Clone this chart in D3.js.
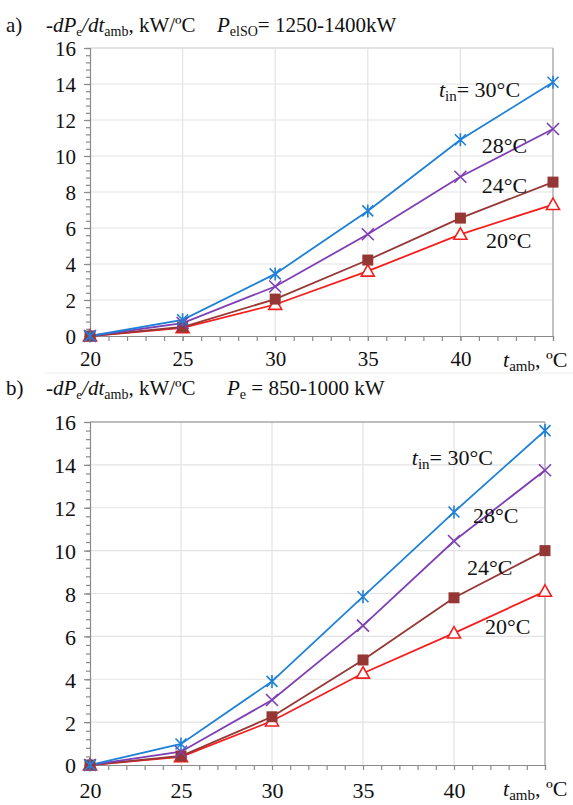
<!DOCTYPE html>
<html><head><meta charset="utf-8">
<script src="https://cdn.jsdelivr.net/npm/d3@7"></script>
<style>body{margin:0;background:#fff}svg{display:block}</style>
</head><body>
<svg id="c" width="573" height="805"></svg>
<script>
const FONT = "'Liberation Serif', Tinos, 'Times New Roman', serif";
const tAmb = [20, 25, 30, 35, 40, 45];
const xTicks = [20, 25, 30, 35, 40, 45];
const xTickLabels = [20, 25, 30, 35, 40];
const yTicks = [0, 2, 4, 6, 8, 10, 12, 14, 16];
const seriesNames = ["30", "28", "24", "20"];
// panel a) P_elSO = 1250-1400 kW
const a30 = [0, 0.9, 3.45, 6.95, 10.9, 14.1];
const a28 = [0, 0.72, 2.75, 5.65, 8.85, 11.5];
const a24 = [0, 0.5, 2.05, 4.22, 6.55, 8.55];
const a20 = [0, 0.45, 1.75, 3.6, 5.65, 7.3];
// panel b) P_e = 850-1000 kW
const b30 = [0, 0.98, 3.9, 7.85, 11.8, 15.6];
const b28 = [0, 0.62, 3.03, 6.5, 10.45, 13.75];
const b24 = [0, 0.42, 2.25, 4.9, 7.8, 10.0];
const b20 = [0, 0.38, 2.05, 4.28, 6.15, 8.1];

const colors = {"30":"#1f80d6","28":"#7f3fb4","24":"#953735","20":"#f41e1e"};
const markers = {"30":"star","28":"x","24":"square","20":"triangle"};

const svg = d3.select("#c").style("font-family", FONT);

svg.append("line").attr("x1",45).attr("x2",573).attr("y1",373).attr("y2",373)
  .attr("stroke","#ececec").attr("stroke-width",1);

function drawMarker(g, type, x, y, c){
  if(type==="star"){
    const s=5.5;
    g.append("path").attr("d",`M${x-s},${y-s}L${x+s},${y+s}M${x-s},${y+s}L${x+s},${y-s}M${x},${y-s-1}L${x},${y+s+1}`)
      .attr("stroke",c).attr("stroke-width",1.6).attr("fill","none");
  } else if(type==="x"){
    const s=6;
    g.append("path").attr("d",`M${x-s},${y-s}L${x+s},${y+s}M${x-s},${y+s}L${x+s},${y-s}`)
      .attr("stroke",c).attr("stroke-width",1.6).attr("fill","none");
  } else if(type==="square"){
    g.append("rect").attr("x",x-5.5).attr("y",y-5.5).attr("width",11).attr("height",11).attr("fill",c);
  } else {
    const s=6.5;
    g.append("path").attr("d",`M${x},${y-s}L${x+s},${y+s*0.75}L${x-s},${y+s*0.75}Z`)
      .attr("stroke",c).attr("stroke-width",1.6).attr("fill","#fff");
  }
}

function styleText(sel, fs){
  sel.attr("font-size",fs).attr("font-family",FONT).attr("fill","#111");
}

function panel(cfg){
  const x = d3.scaleLinear().domain([20,45]).range([cfg.x0,cfg.x1]);
  const y = d3.scaleLinear().domain([0,16]).range([cfg.y0,cfg.y1]);
  const g = svg.append("g");
  g.selectAll(".gy").data(yTicks.slice(1)).join("line")
    .attr("x1",cfg.x0).attr("x2",cfg.x1).attr("y1",d=>y(d)).attr("y2",d=>y(d))
    .attr("stroke","#e3e3e3").attr("stroke-width",1.2);
  g.selectAll(".gx").data(xTicks.slice(1)).join("line")
    .attr("y1",cfg.y0).attr("y2",cfg.y1).attr("x1",d=>x(d)).attr("x2",d=>x(d))
    .attr("stroke","#e3e3e3").attr("stroke-width",1.2);
  g.append("line").attr("x1",cfg.x0).attr("x2",cfg.x1).attr("y1",cfg.y1).attr("y2",cfg.y1)
    .attr("stroke",cfg.topColor).attr("stroke-width",1.2);
  g.append("line").attr("x1",cfg.x1).attr("x2",cfg.x1).attr("y1",cfg.y1).attr("y2",cfg.y0)
    .attr("stroke","#a6a6a6").attr("stroke-width",1.2);
  const yMinor = d3.range(0,16.001,0.4);
  const xMinor = d3.range(20,45.001,1);
  const ay = g.append("g").attr("transform",`translate(${cfg.x0},0)`)
    .call(d3.axisLeft(y).tickValues(yMinor).tickSize(4).tickFormat(""));
  ay.selectAll("line,path").attr("stroke","#8a8a8a").attr("stroke-width",1.2);
  const ay2 = g.append("g").attr("transform",`translate(${cfg.x0},0)`)
    .call(d3.axisLeft(y).tickValues(yTicks).tickSize(6).tickPadding(8).tickFormat(d3.format("d")));
  ay2.select(".domain").remove();
  ay2.selectAll("line").attr("stroke","#8a8a8a").attr("stroke-width",1.2);
  styleText(ay2.selectAll("text"), cfg.fs); ay2.selectAll("text").attr("dy","0.36em");
  const ax = g.append("g").attr("transform",`translate(0,${cfg.y0})`)
    .call(d3.axisBottom(x).tickValues(xMinor).tickSize(5).tickFormat(""));
  ax.selectAll("line,path").attr("stroke","#8a8a8a").attr("stroke-width",1.2);
  const ax2 = g.append("g").attr("transform",`translate(0,${cfg.y0})`)
    .call(d3.axisBottom(x).tickValues(xTickLabels).tickSize(5).tickPadding(cfg.xpad).tickFormat(d3.format("d")));
  ax2.select(".domain").remove();
  ax2.selectAll("line").attr("stroke","#8a8a8a");
  styleText(ax2.selectAll("text"), cfg.fs);
  const order = ["20","24","28","30"];
  order.forEach(k=>{
    const vals = cfg.data[k];
    const pts = tAmb.map((t,i)=>[t,vals[i]]);
    g.append("path").datum(pts)
      .attr("d",d3.line().x(d=>x(d[0])).y(d=>y(d[1])))
      .attr("fill","none").attr("stroke",colors[k]).attr("stroke-width",1.8);
  });
  order.forEach(k=>{
    const vals = cfg.data[k];
    tAmb.forEach((t,i)=>drawMarker(g, markers[k], x(t), y(vals[i]), colors[k]));
  });
  seriesNames.forEach(k=>{
    const p = cfg.labels[k];
    const t = g.append("text").attr("x",x(p[0])).attr("y",y(p[1]));
    styleText(t, 22);
    if(k==="30"){
      t.append("tspan").attr("font-style","italic").text("t");
      t.append("tspan").attr("font-size",15).attr("dy",4).text("in");
      t.append("tspan").attr("dy",-4).text("= 30°C");
    } else {
      t.text(k+"°C");
    }
  });
  const xt = svg.append("text").attr("x",cfg.xtX).attr("y",cfg.xtY);
  styleText(xt, 22);
  xt.append("tspan").attr("font-style","italic").text("t");
  xt.append("tspan").attr("font-size",15).attr("dy",4).text("amb");
  xt.append("tspan").attr("dy",-4).text(", ºC");
  const tt = svg.append("text").attr("y",cfg.titleY);
  styleText(tt, cfg.tfs);
  tt.append("tspan").attr("x",6).text(cfg.letter);
  tt.append("tspan").attr("x",46).attr("font-style","italic").text("-dP");
  tt.append("tspan").attr("font-size",13).attr("dy",4).text("e");
  tt.append("tspan").attr("dy",-4).attr("font-style","italic").text("/dt");
  tt.append("tspan").attr("font-size",14).attr("dy",4).text("amb");
  tt.append("tspan").attr("dy",-4).text(", kW/ºC");
  tt.append("tspan").attr("x",cfg.pX).attr("font-style","italic").text("P");
  tt.append("tspan").attr("font-size",14).attr("dy",4).text(cfg.psub);
  tt.append("tspan").attr("dy",-4).text(cfg.ptext);
}

panel({x0:90,x1:553,y0:336,y1:48,fs:21,xpad:10,topColor:"#d6d6d6",
  data:{"30":a30,"28":a28,"24":a24,"20":a20},
  labels:{"30":[38.84,13.29],"28":[41.15,10.18],"24":[41.15,7.96],"20":[41.38,4.87]},
  xtX:503,xtY:367,titleY:32,tfs:21,letter:"a)",pX:217,psub:"elSO",ptext:"= 1250-1400kW"});
panel({x0:90,x1:545,y0:765,y1:422,fs:22,xpad:12,topColor:"#8a8a8a",
  data:{"30":b30,"28":b28,"24":b24,"20":b20},
  labels:{"30":[37.68,13.99],"28":[41.04,11.27],"24":[40.71,8.86],"20":[41.70,6.11]},
  xtX:503,xtY:796,titleY:395,tfs:21,letter:"b)",pX:227,psub:"e",ptext:" = 850-1000 kW"});
</script>
</body></html>
